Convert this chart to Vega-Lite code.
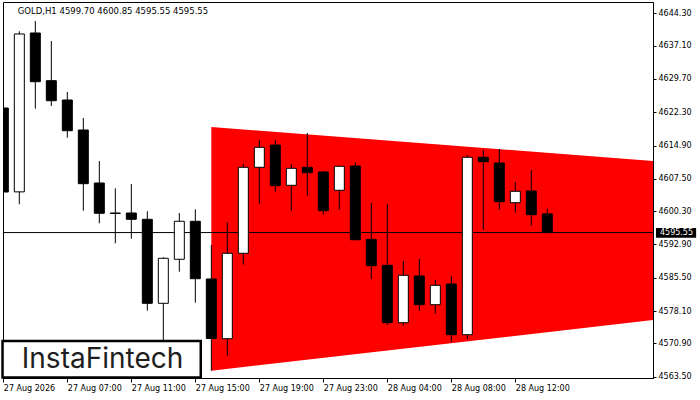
{
  "$schema": "https://vega.github.io/schema/vega-lite/v6.json",
  "width": 650,
  "height": 376,
  "autosize": {"type": "none"},
  "padding": {"left": 3, "top": 2, "right": 47, "bottom": 22},
  "background": "white",
  "config": {
    "view": {"stroke": "black", "strokeWidth": 1},
    "scale": {"continuousPadding": 0},
    "axis": {
      "labelFont": "DejaVu Sans",
      "labelFontSize": 8,
      "labelColor": "black",
      "tickColor": "black",
      "domainColor": "black",
      "grid": false,
      "title": null,
      "labelOverlap": false,
      "labelFlush": false
    }
  },
  "datasets": {
    "candles": [
      {"i": 0, "o": 4623.25, "h": 4626.52, "l": 4600.12, "c": 4604.57},
      {"i": 1, "o": 4604.6, "h": 4640.31, "l": 4601.84, "c": 4639.71},
      {"i": 2, "o": 4639.93, "h": 4642.6, "l": 4623.1, "c": 4629.1},
      {"i": 3, "o": 4629.32, "h": 4638.15, "l": 4623.7, "c": 4624.87},
      {"i": 4, "o": 4625.03, "h": 4626.81, "l": 4616.65, "c": 4618.2},
      {"i": 5, "o": 4618.36, "h": 4621.03, "l": 4600.41, "c": 4606.42},
      {"i": 6, "o": 4606.57, "h": 4611.47, "l": 4597.61, "c": 4599.84},
      {"i": 7, "o": 4599.9, "h": 4605.39, "l": 4593.16, "c": 4599.8},
      {"i": 8, "o": 4599.9, "h": 4606.35, "l": 4594.19, "c": 4598.5},
      {"i": 9, "o": 4598.5, "h": 4600.28, "l": 4578.18, "c": 4579.82},
      {"i": 10, "o": 4579.82, "h": 4590.05, "l": 4571.66, "c": 4589.83},
      {"i": 11, "o": 4589.61, "h": 4599.9, "l": 4586.85, "c": 4598.06},
      {"i": 12, "o": 4598.06, "h": 4600.72, "l": 4579.96, "c": 4585.29},
      {"i": 13, "o": 4585.23, "h": 4592.79, "l": 4564.83, "c": 4571.99},
      {"i": 14, "o": 4571.95, "h": 4597.83, "l": 4568.17, "c": 4590.94},
      {"i": 15, "o": 4590.94, "h": 4610.8, "l": 4588.41, "c": 4610.06},
      {"i": 16, "o": 4610.06, "h": 4616.14, "l": 4601.97, "c": 4614.51},
      {"i": 17, "o": 4615.02, "h": 4616.14, "l": 4604.64, "c": 4605.97},
      {"i": 18, "o": 4606.06, "h": 4610.8, "l": 4600.41, "c": 4609.84},
      {"i": 19, "o": 4610.06, "h": 4617.69, "l": 4603.75, "c": 4608.86},
      {"i": 20, "o": 4609.02, "h": 4609.24, "l": 4599.52, "c": 4600.41},
      {"i": 21, "o": 4604.95, "h": 4610.4, "l": 4600.64, "c": 4610.29},
      {"i": 22, "o": 4610.35, "h": 4611.09, "l": 4593.8, "c": 4593.96},
      {"i": 23, "o": 4594.05, "h": 4602.13, "l": 4585.23, "c": 4588.18},
      {"i": 24, "o": 4588.27, "h": 4601.9, "l": 4575.0, "c": 4575.51},
      {"i": 25, "o": 4575.51, "h": 4589.23, "l": 4574.84, "c": 4586.05},
      {"i": 26, "o": 4585.89, "h": 4589.67, "l": 4578.18, "c": 4579.51},
      {"i": 27, "o": 4579.51, "h": 4585.0, "l": 4577.51, "c": 4583.82},
      {"i": 28, "o": 4584.11, "h": 4585.89, "l": 4571.22, "c": 4572.84},
      {"i": 29, "o": 4572.84, "h": 4612.8, "l": 4571.88, "c": 4612.29},
      {"i": 30, "o": 4612.29, "h": 4613.91, "l": 4596.12, "c": 4611.31},
      {"i": 31, "o": 4611.02, "h": 4614.13, "l": 4600.64, "c": 4602.41},
      {"i": 32, "o": 4602.19, "h": 4606.8, "l": 4599.97, "c": 4604.73},
      {"i": 33, "o": 4604.79, "h": 4609.46, "l": 4597.08, "c": 4599.52},
      {"i": 34, "o": 4599.70, "h": 4600.85, "l": 4595.55, "c": 4595.55}
    ],
    "triangle": [
      {"i": 13, "top": 4619.03, "bot": 4564.83},
      {"i": 40.7, "top": 4611.45, "bot": 4576.15}
    ],
    "last": [{"p": 4595.55, "label": "4595.55"}]
  },
  "layer": [
    {
      "data": {"name": "triangle"},
      "mark": {"type": "area", "color": "#ff0000", "opacity": 1, "clip": true},
      "encoding": {
        "x": {
          "field": "i", "type": "quantitative",
          "scale": {"domain": [-0.02, 40.605], "nice": false, "zero": false, "padding": 0},
          "axis": {
            "values": [0, 4, 8, 12, 16, 20, 24, 28, 32],
            "tickCount": 40,
            "labelExpr": "['27 Aug 2026','27 Aug 07:00','27 Aug 11:00','27 Aug 15:00','27 Aug 19:00','27 Aug 23:00','28 Aug 04:00','28 Aug 08:00','28 Aug 12:00'][round(datum.value/4)]",
            "labelAlign": "left",
            "labelBaseline": "top",
            "labelPadding": 2,
            "labelFlush": false,
            "labelOverlap": false,
            "tickSize": 4
          }
        },
        "y": {
          "field": "top", "type": "quantitative",
          "scale": {"domain": [4563.21, 4646.82], "nice": false, "zero": false, "padding": 0},
          "axis": {
            "orient": "right",
            "values": [4563.5, 4570.9, 4578.1, 4585.5, 4592.9, 4600.3, 4607.5, 4614.9, 4622.3, 4629.7, 4637.1, 4644.3],
            "tickCount": 40,
            "format": ".2f",
            "tickSize": 3,
            "labelPadding": 2,
            "labelOverlap": false,
            "labelFlush": false
          }
        },
        "y2": {"field": "bot"}
      }
    },
    {
      "data": {"name": "last"},
      "mark": {"type": "rule", "color": "black", "strokeWidth": 1},
      "encoding": {
        "y": {"field": "p", "type": "quantitative"}
      }
    },
    {
      "data": {"name": "candles"},
      "mark": {"type": "rule", "color": "black", "strokeWidth": 1, "clip": true},
      "encoding": {
        "x": {"field": "i", "type": "quantitative"},
        "y": {"field": "l", "type": "quantitative"},
        "y2": {"field": "h"}
      }
    },
    {
      "data": {"name": "candles"},
      "mark": {"type": "bar", "size": 10, "stroke": "black", "strokeWidth": 1, "clip": true},
      "encoding": {
        "x": {"field": "i", "type": "quantitative"},
        "y": {"field": "o", "type": "quantitative"},
        "y2": {"field": "c"},
        "fill": {"condition": {"test": "datum.c > datum.o", "value": "white"}, "value": "black"}
      }
    },
    {
      "data": {"values": [{"a": 1}]},
      "mark": {"type": "rect", "fill": "white", "stroke": "black", "strokeWidth": 2.5, "clip": false},
      "encoding": {
        "x": {"datum": -0.05, "type": "quantitative"},
        "x2": {"datum": 12.34},
        "y": {"datum": 4571.44, "type": "quantitative"},
        "y2": {"datum": 4563.3}
      }
    },
    {
      "data": {"values": [{"t": "InstaFintech"}]},
      "mark": {"type": "text", "font": "Inter", "fontSize": 28, "fontWeight": 400, "color": "#1e1e1e", "align": "center", "baseline": "middle"},
      "encoding": {
        "x": {"datum": 6.2, "type": "quantitative"},
        "y": {"datum": 4567.3, "type": "quantitative"},
        "text": {"field": "t"}
      }
    },
    {
      "data": {"values": [{"t": "GOLD,H1  4599.70 4600.85 4595.55 4595.55"}]},
      "mark": {"type": "text", "font": "DejaVu Sans", "fontSize": 8.5, "color": "black", "align": "left", "baseline": "middle"},
      "encoding": {
        "x": {"datum": 0.9, "type": "quantitative"},
        "y": {"datum": 4644.8, "type": "quantitative"},
        "text": {"field": "t"}
      }
    },
    {
      "data": {"values": [{"a": 1}]},
      "mark": {"type": "rect", "fill": "black", "clip": false},
      "encoding": {
        "x": {"datum": 40.79, "type": "quantitative"},
        "x2": {"datum": 43.3},
        "y": {"datum": 4596.57, "type": "quantitative"},
        "y2": {"datum": 4594.41}
      }
    },
    {
      "data": {"name": "last"},
      "mark": {"type": "text", "font": "DejaVu Sans", "fontSize": 8, "color": "white", "align": "left", "baseline": "middle", "clip": false},
      "encoding": {
        "x": {"datum": 41.04, "type": "quantitative"},
        "y": {"field": "p", "type": "quantitative"},
        "text": {"field": "label"}
      }
    }
  ]
}
